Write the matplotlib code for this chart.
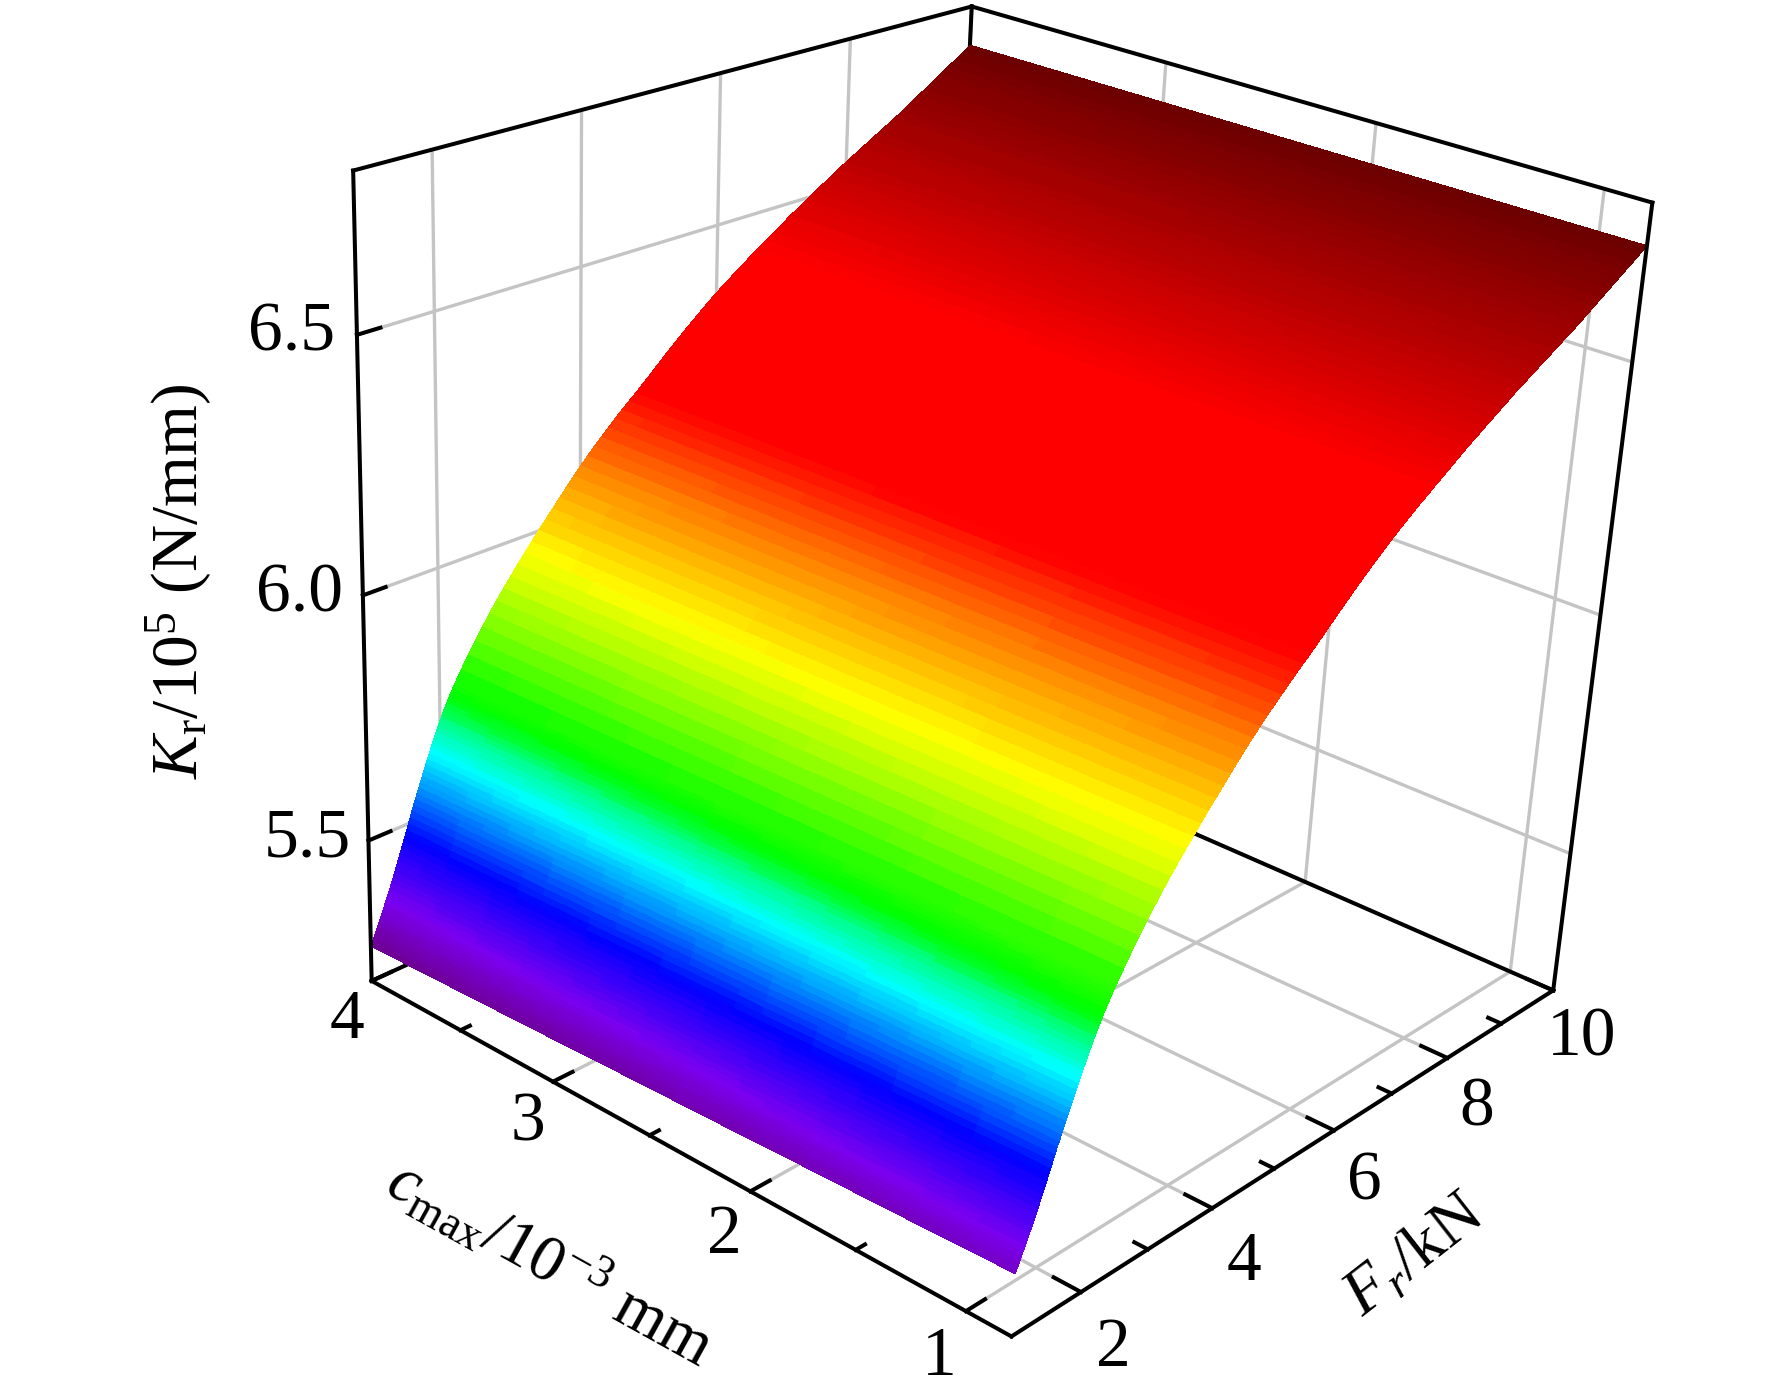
import matplotlib
matplotlib.use("Agg")
import matplotlib.pyplot as plt
import numpy as np
from matplotlib.colors import LinearSegmentedColormap, Normalize

plt.rcParams["font.family"] = ["Liberation Serif", "DejaVu Serif"]
plt.rcParams["mathtext.fontset"] = "custom"
plt.rcParams["mathtext.rm"] = "Liberation Serif"
plt.rcParams["mathtext.it"] = "Liberation Serif:italic"
plt.rcParams["grid.color"] = "#c4c4c4"
plt.rcParams["grid.linewidth"] = 2.4

F_r = [
    1.000, 1.025, 1.050, 1.075, 1.100, 1.125, 1.150, 1.175, 1.200, 1.225, 1.250, 1.275,
    1.300, 1.325, 1.350, 1.375, 1.400, 1.425, 1.450, 1.475, 1.500, 1.525, 1.550, 1.575,
    1.600, 1.625, 1.650, 1.675, 1.700, 1.725, 1.750, 1.775, 1.800, 1.825, 1.850, 1.875,
    1.900, 1.925, 1.950, 1.975, 2.000, 2.025, 2.050, 2.075, 2.100, 2.125, 2.150, 2.175,
    2.200, 2.300, 2.400, 2.500, 2.600, 2.700, 2.800, 2.900, 3.000, 3.100, 3.200, 3.300,
    3.400, 3.500, 3.600, 3.700, 3.800, 3.900, 4.000, 4.100, 4.200, 4.300, 4.400, 4.500,
    4.600, 4.700, 4.800, 4.900, 5.000, 5.200, 5.400, 5.600, 5.800, 6.000, 6.125, 6.250,
    6.375, 6.500, 6.625, 6.750, 6.875, 7.000, 7.125, 7.250, 7.375, 7.500, 7.625, 7.750,
    7.875, 8.000, 8.125, 8.250, 8.375, 8.500, 8.625, 8.750, 8.875, 9.000, 9.125, 9.250,
    9.375, 9.500, 9.625, 9.750, 9.875, 10.000,
]
K_r_at_c4 = [
    5.275, 5.284, 5.293, 5.302, 5.312, 5.321, 5.331, 5.340, 5.350, 5.360, 5.370, 5.380,
    5.391, 5.401, 5.412, 5.423, 5.434, 5.445, 5.456, 5.467, 5.479, 5.490, 5.502, 5.513,
    5.525, 5.536, 5.547, 5.557, 5.568, 5.578, 5.589, 5.599, 5.610, 5.620, 5.630, 5.640,
    5.650, 5.659, 5.669, 5.678, 5.687, 5.695, 5.704, 5.712, 5.720, 5.727, 5.735, 5.742,
    5.749, 5.775, 5.800, 5.823, 5.846, 5.868, 5.889, 5.909, 5.928, 5.947, 5.965, 5.983,
    6.001, 6.018, 6.035, 6.052, 6.069, 6.086, 6.102, 6.117, 6.132, 6.146, 6.160, 6.174,
    6.187, 6.200, 6.212, 6.225, 6.238, 6.265, 6.291, 6.316, 6.340, 6.363, 6.376, 6.389,
    6.402, 6.414, 6.426, 6.438, 6.450, 6.462, 6.474, 6.485, 6.496, 6.507, 6.518, 6.529,
    6.540, 6.550, 6.560, 6.570, 6.580, 6.590, 6.600, 6.610, 6.620, 6.631, 6.642, 6.653,
    6.664, 6.675, 6.686, 6.697, 6.708, 6.720,
]
# how much of the clearance gain is left at each F_r
gain_share = [
    1.20, 1.20, 1.20, 1.20, 1.20, 1.20, 1.20, 1.20, 1.20, 1.20, 1.20, 1.20,
    1.20, 1.20, 1.20, 1.20, 1.20, 1.20, 1.20, 1.20, 1.20, 1.15, 1.13, 1.12,
    1.10, 1.08, 1.06, 1.05, 1.03, 1.01, 1.00, 0.98, 0.96, 0.94, 0.93, 0.91,
    0.89, 0.87, 0.86, 0.84, 0.82, 0.80, 0.78, 0.77, 0.75, 0.73, 0.71, 0.70,
    0.68, 0.66, 0.64, 0.62, 0.60, 0.58, 0.56, 0.54, 0.52, 0.50, 0.48, 0.46,
    0.44, 0.42, 0.40, 0.38, 0.36, 0.34, 0.32, 0.30, 0.28, 0.26, 0.24, 0.22,
    0.21, 0.21, 0.20, 0.20, 0.19, 0.18, 0.17, 0.16, 0.15, 0.14, 0.14, 0.13,
    0.13, 0.12, 0.12, 0.11, 0.11, 0.10, 0.10, 0.09, 0.09, 0.08, 0.08, 0.07,
    0.07, 0.06, 0.06, 0.06, 0.05, 0.05, 0.05, 0.04, 0.04, 0.04, 0.03, 0.03,
    0.03, 0.02, 0.02, 0.01, 0.01, 0.00,
]
c_max = [
    0.8, 1.0, 1.125, 1.25, 1.375, 1.5, 1.625, 1.75, 1.875, 2.0, 2.125, 2.25, 2.375, 2.5,
    2.625, 2.75, 2.875, 3.0, 3.125, 3.25, 3.375, 3.5, 3.625, 3.75, 3.875, 4.0,
]
K_r_gain = [
    0.040, 0.038, 0.036, 0.034, 0.033, 0.031, 0.030, 0.028, 0.027, 0.025, 0.023, 0.022, 0.020,
    0.019, 0.017, 0.016, 0.014, 0.012, 0.011, 0.009, 0.008, 0.006, 0.005, 0.003, 0.002, 0.0,
]

F_major = [2, 4, 6, 8, 10]
F_minor = [3, 5, 7, 9]
c_major = [1, 2, 3, 4]
c_minor = [1.5, 2.5, 3.5]
K_major = [5.5, 6.0, 6.5]
K_labels = ["5.5", "6.0", "6.5"]

F_LIM = (1, 10)
C_LIM = (0.8, 4)
K_LIM = (5.2, 6.8)

_COLOR_STOPS = [
    (5.27, "#6e0090"), (5.357, "#7a00f0"), (5.474, "#0000ff"), (5.63, "#00ffff"),
    (5.69, "#00ff80"), (5.70, "#00ff50"), (5.73, "#00ff00"), (5.96, "#ffff00"),
    (6.10, "#ff8000"), (6.21, "#ff0000"), (6.42, "#ff0000"), (6.54, "#c00000"),
    (6.745, "#5c0000"),
]
_LINE_WIDTH = 2.9


def _rainbow():
    low, high = _COLOR_STOPS[0][0], _COLOR_STOPS[-1][0]
    stops = [((v - low) / (high - low), col) for v, col in _COLOR_STOPS]
    return LinearSegmentedColormap.from_list("kr", stops, N=256), Normalize(low, high)


def _edge(ax, xs, ys, zs, zorder):
    ax.plot(xs, ys, zs, color="black", linewidth=_LINE_WIDTH, zorder=zorder,
            solid_capstyle="projecting", clip_on=False)


fig = plt.figure(figsize=(17.72, 13.98), dpi=100)
ax = fig.add_axes([358 / 1772, 161 / 1398, 1230 / 1772, 1230 / 1398],
                  projection="3d", computed_zorder=False)
ax.set_box_aspect((1, 1, 1), zoom=1.2)
ax.set_proj_type("persp", focal_length=0.5743)
ax.view_init(elev=24.6, azim=-140, roll=-3)
ax.set_xlim(*F_LIM)
ax.set_ylim(*C_LIM)
ax.set_zlim(*K_LIM)

F_grid, c_grid = np.meshgrid(F_r, c_max, indexing="ij")
K_grid = np.asarray(K_r_at_c4)[:, None] + np.outer(gain_share, K_r_gain)
cmap, norm = _rainbow()
surface = ax.plot_surface(F_grid, c_grid, K_grid, facecolors=cmap(norm(K_grid)), rstride=1, cstride=1,
                          shade=False, linewidth=0, antialiased=False, zorder=2)
surface.set_clip_on(False)

ax.set_xticks(F_major)
ax.set_yticks(c_major)
ax.set_zticks(K_major)
ax.set_zticklabels(K_labels)
ax.tick_params(axis="both", labelsize=50)
ax.tick_params(axis="x", pad=14)
ax.tick_params(axis="y", pad=10)
ax.tick_params(axis="z", pad=15)
for axis in (ax.xaxis, ax.yaxis, ax.zaxis):
    axis.set_pane_color((1, 1, 1, 0))
    axis.line.set_color((0, 0, 0, 0))
    axis._axinfo["tick"]["inward_factor"] = 0
    axis._axinfo["tick"]["outward_factor"] = 0
    for tick in axis.get_major_ticks():
        tick.label1.set_va("center")
ax.zaxis.set_ticks_position("upper")

# box edges behind the surface
_edge(ax, [F_LIM[1], F_LIM[1]], C_LIM, [K_LIM[0], K_LIM[0]], 1)
_edge(ax, F_LIM, [C_LIM[1], C_LIM[1]], [K_LIM[0], K_LIM[0]], 1)
_edge(ax, [F_LIM[1], F_LIM[1]], [C_LIM[1], C_LIM[1]], K_LIM, 1)

# box edges in front of it
_edge(ax, F_LIM, [C_LIM[0], C_LIM[0]], [K_LIM[0], K_LIM[0]], 3)
_edge(ax, [F_LIM[0], F_LIM[0]], C_LIM, [K_LIM[0], K_LIM[0]], 3)
_edge(ax, F_LIM, [C_LIM[1], C_LIM[1]], [K_LIM[1], K_LIM[1]], 3)
_edge(ax, [F_LIM[1], F_LIM[1]], C_LIM, [K_LIM[1], K_LIM[1]], 3)
_edge(ax, [F_LIM[0], F_LIM[0]], [C_LIM[1], C_LIM[1]], K_LIM, 3)
_edge(ax, [F_LIM[1], F_LIM[1]], [C_LIM[0], C_LIM[0]], K_LIM, 3)

# tick marks point into the box
for ticks, length in ((F_major, 0.12), (F_minor, 0.06)):
    for f in ticks:
        _edge(ax, [f, f], [C_LIM[0], C_LIM[0] + length], [K_LIM[0], K_LIM[0]], 3)
for ticks, length in ((c_major, 0.27), (c_minor, 0.13)):
    for c in ticks:
        _edge(ax, [F_LIM[0], F_LIM[0] + length], [c, c], [K_LIM[0], K_LIM[0]], 3)
for k in K_major:
    _edge(ax, [F_LIM[0], F_LIM[0] + 0.3], [C_LIM[1], C_LIM[1]], [k, k], 3)

fig.text(158 * 1.13 / 1772, 1 - 515 * 1.13 / 1398, r"$K_{\mathrm{r}}$/10$^{5}$ (N/mm)",
         rotation=90, fontsize=47, ha="center", va="center")
fig.text(487 * 1.13 / 1772, 1 - 1118 * 1.13 / 1398, r"$c_{\mathrm{max}}$/10$^{-3}$ mm",
         rotation=-29, fontsize=47, ha="center", va="center", rotation_mode="anchor")
fig.text(1252 * 1.13 / 1772, 1 - 1112 * 1.13 / 1398, r"$F_{r}$/kN",
         rotation=38, fontsize=47, ha="center", va="center", rotation_mode="anchor")

fig.savefig("out.png", dpi=100)
